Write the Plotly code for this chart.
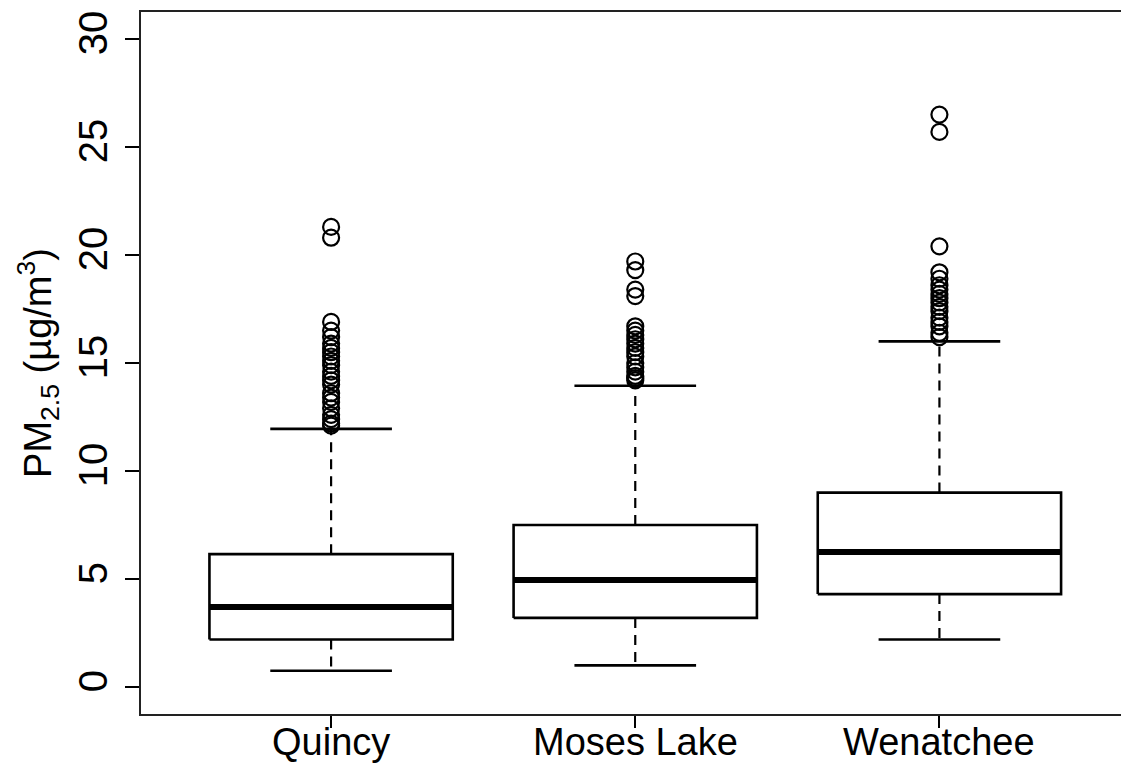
import plotly.graph_objects as go

# box statistics (PM2.5, ug/m3)
sites = ["Quincy", "Moses Lake", "Wenatchee"]
lower_whisker = [0.75, 1.0, 2.2]
q1 = [2.2, 3.2, 4.3]
median = [3.7, 4.95, 6.25]
q3 = [6.15, 7.5, 9.0]
upper_whisker = [11.95, 13.95, 16.0]

quincy_out = [21.3, 20.8, 16.9, 16.5, 16.2, 15.9, 15.7, 15.5, 15.3, 15.1, 14.9, 14.6,
              14.4, 14.2, 14.0, 13.6, 13.4, 13.2, 12.9, 12.6, 12.4, 12.2, 12.1]
moses_out = [19.7, 19.3, 18.4, 18.1, 16.7, 16.5, 16.3, 16.1, 15.9, 15.7, 15.5, 15.3,
             15.0, 14.8, 14.6, 14.4, 14.3, 14.2]
wenatchee_out = [26.5, 25.7, 20.4, 19.2, 18.9, 18.6, 18.4, 18.2, 18.0, 17.8, 17.6, 17.4,
                 17.1, 16.9, 16.7, 16.4, 16.2]
outliers = [quincy_out, moses_out, wenatchee_out]

y_ticks = [0, 5, 10, 15, 20, 25, 30]

half_box = 0.4   # R default boxwex 0.8
half_staple = 0.2

fig = go.Figure()
for i, name in enumerate(sites):
    x = i + 1
    line = dict(color="black", width=2.6)
    # box
    fig.add_trace(go.Scatter(x=[x - half_box, x + half_box, x + half_box, x - half_box, x - half_box],
                             y=[q1[i], q1[i], q3[i], q3[i], q1[i]],
                             mode="lines", line=line))
    # median
    fig.add_trace(go.Scatter(x=[x - half_box, x + half_box], y=[median[i], median[i]],
                             mode="lines", line=dict(color="black", width=6)))
    # whiskers (dashed)
    fig.add_trace(go.Scatter(x=[x, x, None, x, x],
                             y=[q3[i], upper_whisker[i], None, q1[i], lower_whisker[i]],
                             mode="lines", line=dict(color="black", width=2.2, dash="10px,7px")))
    # staples
    fig.add_trace(go.Scatter(x=[x - half_staple, x + half_staple, None, x - half_staple, x + half_staple],
                             y=[upper_whisker[i], upper_whisker[i], None, lower_whisker[i], lower_whisker[i]],
                             mode="lines", line=line))
    # outliers
    fig.add_trace(go.Scatter(x=[x] * len(outliers[i]), y=outliers[i], mode="markers",
                             marker=dict(symbol="circle-open", size=16,
                                         line=dict(color="black", width=2.2), color="black")))
    # category label under the axis (closer than plotly's tick labels allow)
    fig.add_annotation(x=x, y=0, xref="x", yref="paper", text=name, showarrow=False,
                       yanchor="top", yshift=-5, font=dict(size=38))

fig.update_layout(
    width=1121, height=766,
    margin=dict(l=141, r=0, t=12, b=52),
    plot_bgcolor="white", paper_bgcolor="white",
    showlegend=False,
    font=dict(family="Liberation Sans, Arial", color="black"),
)
fig.update_xaxes(
    range=[0.375, 3.597], tickvals=[1, 2, 3], showticklabels=False,
    showgrid=False, zeroline=False,
    showline=True, mirror=True, linecolor="#222", linewidth=1.8,
    ticks="outside", ticklen=12, tickwidth=1.5, tickcolor="black",
    automargin=False,
)
fig.update_yaxes(
    range=[-1.25, 31.25], tickvals=y_ticks,
    showgrid=False, zeroline=False,
    showline=True, linecolor="#222", linewidth=1.8,
    ticks="outside", ticklen=14, tickwidth=1.5, tickcolor="black",
    tickangle=-90, tickfont=dict(size=40), ticklabelstandoff=2, automargin=False,
    title=dict(text="PM<sub>2.5</sub> (µg/m<sup>3</sup>)", font=dict(size=38), standoff=8),
)

fig.write_html("out.html", config={"displayModeBar": False},
               post_script="document.body.style.margin='0px';document.body.style.overflow='hidden';")
